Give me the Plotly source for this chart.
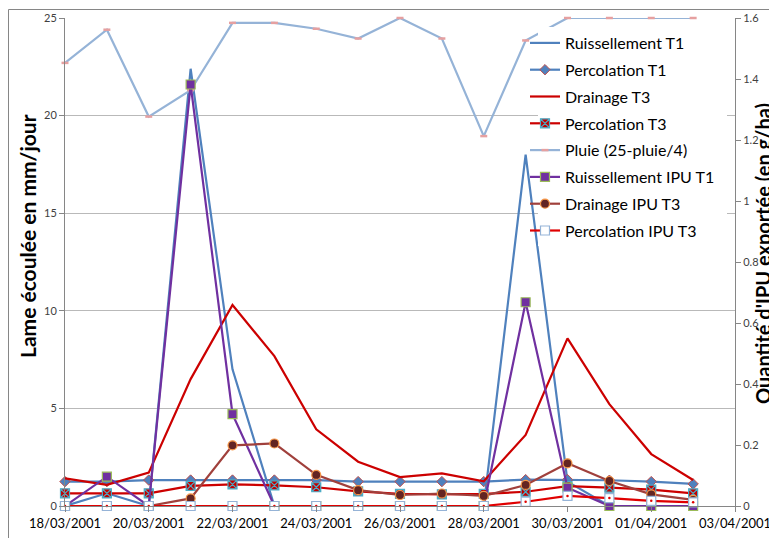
import plotly.graph_objects as go

# ---------------- data ----------------
dates = ["2001-03-18", "2001-03-19", "2001-03-20", "2001-03-21", "2001-03-22", "2001-03-23",
         "2001-03-24", "2001-03-25", "2001-03-26", "2001-03-27", "2001-03-28", "2001-03-29",
         "2001-03-30", "2001-03-31", "2001-04-01", "2001-04-02"]

ruissellement_t1 = [0, 0.65, 0, 22.4, 7.0, 0, 0, 0, 0, 0, 0, 18.0, 1.25, 0, 0, 0]
percolation_t1 = [1.25, 1.25, 1.33, 1.33, 1.33, 1.33, 1.33, 1.25, 1.25, 1.25, 1.25, 1.35, 1.35, 1.32, 1.25, 1.13]
drainage_t3 = [1.42, 1.08, 1.71, 6.5, 10.3, 7.68, 3.93, 2.27, 1.48, 1.67, 1.27, 3.64, 8.59, 5.22, 2.66, 1.33]
percolation_t3 = [0.65, 0.65, 0.65, 1.03, 1.11, 1.06, 0.96, 0.75, 0.62, 0.6, 0.62, 0.73, 1.02, 0.94, 0.84, 0.65]
pluie = [22.7, 24.4, 19.95, 21.3, 24.75, 24.75, 24.45, 23.95, 25, 23.95, 18.95, 23.85, 25, 25, 25, 25]

ruissellement_ipu_t1 = [0, 0.096, 0, 1.382, 0.301, 0, 0, 0, 0, 0, 0, 0.668, 0.06, 0, 0, 0]
drainage_ipu_t3 = [0, 0, 0, 0.025, 0.199, 0.205, 0.102, 0.052, 0.036, 0.041, 0.033, 0.069, 0.14, 0.082, 0.038, 0.02]
percolation_ipu_t3 = [0, 0, 0, 0, 0, 0, 0, 0, 0, 0, 0, 0.014, 0.033, 0.026, 0.017, 0.012]

x_tick0 = "2001-03-18"
x_range = ["2001-03-18", "2001-04-03"]

FONT = "Lato, Calibri, Carlito, 'Open Sans', sans-serif"

fig = go.Figure()

def add(name, y, yaxis, line_color, width=2.2, mode="lines", marker=None, group=None, showlegend=True):
    kw = dict(x=dates, y=y, name=name, yaxis=yaxis, mode=mode,
              line=dict(color=line_color, width=width), cliponaxis=False,
              legendgroup=group or name, showlegend=showlegend)
    if marker is not None:
        kw["marker"] = marker
    fig.add_trace(go.Scatter(**kw))

add("Ruissellement T1", ruissellement_t1, "y", "#4F81BD")
add("Percolation T1", percolation_t1, "y", "#4F81BD", mode="lines+markers",
    marker=dict(symbol="diamond", size=8, color="#4F81BD", line=dict(color="#C0504D", width=1)))
add("Drainage T3", drainage_t3, "y", "#CC0000")
add("Percolation T3", percolation_t3, "y", "#CC0000", mode="lines+markers",
    marker=dict(symbol="square-x", size=9, color="#C00000", line=dict(color="#4BACC6", width=1.2)))
add("Pluie (25-pluie/4)", pluie, "y", "#95B3D7", mode="lines+markers",
    marker=dict(symbol="line-ew-open", size=5, color="#E6A0A0", line=dict(color="#E6A0A0", width=2.5)))
add("Ruissellement IPU T1", ruissellement_ipu_t1, "y2", "#7030A0", mode="lines+markers",
    marker=dict(symbol="square", size=9, color="#7030A0", line=dict(color="#9BBB59", width=1.2)))
add("Drainage IPU T3", drainage_ipu_t3, "y2", "#A0403C", mode="lines+markers",
    marker=dict(symbol="circle", size=9, color="#632523", line=dict(color="#F79646", width=1.2)))
add("Percolation IPU T3", percolation_ipu_t3, "y2", "#E00000", mode="lines+markers",
    marker=dict(symbol="square", size=9, color="#FFFFFF", line=dict(color="#95B3D7", width=1.2)))
add("Percolation IPU T3 dot", percolation_ipu_t3, "y2", "#E00000", mode="markers",
    marker=dict(symbol="circle", size=2.5, color="#E00000", line=dict(width=0)),
    group="Percolation IPU T3", showlegend=False)

# page layout (the html body adds an 8px offset)
OFF = 8
W, H = 777 - OFF, 538 - OFF
PL, PR, PT, PB = 65, 735, 18, 506          # plot area in page pixels
L, R, T, B = PL - OFF, W - (PR - OFF), PT - OFF, H - (PB - OFF)
pw, ph = PR - PL, PB - PT

def px_x(p):
    return (p - PL) / pw

def px_y(p):
    return (PB - p) / ph

axis_common = dict(automargin=False, showline=True, linecolor="#868686", linewidth=1,
                   ticks="outside", ticklen=5, tickcolor="#868686", zeroline=False)

fig.update_layout(
    width=W, height=H,
    margin=dict(l=L, r=R, t=T, b=B, pad=0, autoexpand=False),
    paper_bgcolor="white", plot_bgcolor="white",
    font=dict(family=FONT, color="#000000"),
    showlegend=True,
    legend=dict(x=px_x(525), y=px_y(26), xanchor="left", yanchor="top",
                bgcolor="rgba(0,0,0,0)", borderwidth=0, font=dict(size=16, family=FONT, color="#000"),
                traceorder="grouped", tracegroupgap=3, itemwidth=30),
    xaxis=dict(type="date", range=x_range, tick0=x_tick0, dtick=2 * 86400000,
               tickformat="%d/%m/%Y", showgrid=False,
               tickfont=dict(size=13, family=FONT, color="#000"), **axis_common),
    yaxis=dict(range=[0, 25], dtick=5, showgrid=True, gridcolor="#B9B9B9", gridwidth=1,
               tickfont=dict(size=11, family=FONT, color="#404040"), **axis_common),
    yaxis2=dict(range=[0, 1.6], dtick=0.2, overlaying="y", side="right", showgrid=False,
                tickfont=dict(size=11, family=FONT, color="#404040"), **axis_common),
    annotations=[
        dict(text="<b>Lame écoulée en mm/jour</b>", x=px_x(27), y=px_y(236), xref="paper", yref="paper",
             showarrow=False, textangle=-90, font=dict(size=21, family=FONT, color="#000"),
             xanchor="center", yanchor="middle"),
        dict(text="<b>Quantité d'IPU exportée (en g/ha)</b>", x=px_x(763), y=px_y(254),
             xref="paper", yref="paper", showarrow=False, textangle=-90,
             font=dict(size=20, family=FONT, color="#000"), xanchor="center", yanchor="middle"),
    ],
    shapes=[
        # legend background box
        dict(type="rect", xref="paper", yref="paper", x0=px_x(538), x1=px_x(727),
             y0=px_y(246), y1=px_y(27), fillcolor="white", line=dict(width=0), layer="above"),
        # outer chart border (top and left)
        dict(type="line", xref="paper", yref="paper", x0=px_x(OFF + 0.5), x1=px_x(800),
             y0=px_y(9.5), y1=px_y(9.5), line=dict(color="#868686", width=1)),
        dict(type="line", xref="paper", yref="paper", x0=px_x(OFF + 0.5), x1=px_x(OFF + 0.5),
             y0=px_y(9.5), y1=px_y(560), line=dict(color="#868686", width=1)),
    ],
)

fig.write_html("out.html")
